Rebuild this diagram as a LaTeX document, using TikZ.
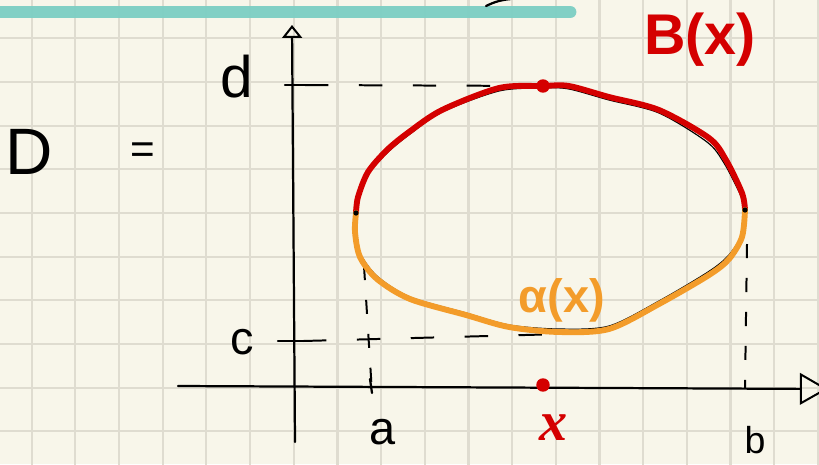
\documentclass[tikz,border=0pt]{standalone}
\usepackage{fontspec}
\setmainfont{Liberation Sans}
\newfontfamily\slantfont{Liberation Serif}
\usetikzlibrary{arrows.meta, calc}
\usepackage{xcolor}
\definecolor{paper}{HTML}{F8F6EA}
\definecolor{gridcol}{HTML}{DFDCD0}
\definecolor{marker}{HTML}{7CCFC4}
\definecolor{upper}{HTML}{D40000}
\definecolor{lower}{HTML}{F39C2A}
\tikzstyle{gridline} = [gridcol, line width=1.9pt]
\tikzstyle{highlight} = [marker, line width=11pt, line cap=round, opacity=0.95]
\tikzstyle{pen} = [black, line width=1.9pt, line cap=round]
\tikzstyle{axisy} = [pen, -{Triangle[open, length=11pt, width=17pt, line width=1.7pt]}]
\tikzstyle{axisx} = [pen, -{Triangle[open, length=24pt, width=27pt, line width=1.7pt]}]
\tikzstyle{guide} = [black, line width=1.7pt, dash pattern=on 20pt off 26pt]
\tikzstyle{vguide} = [black, line width=1.7pt, dash pattern=on 12pt off 17pt]
\tikzstyle{outline} = [black, line width=1pt]
\tikzstyle{upperarc} = [upper, line width=5pt, line cap=round, line join=round]
\tikzstyle{lowerarc} = [lower, line width=5pt, line cap=round, line join=round]
\tikzstyle{reddot} = [circle, fill=upper, inner sep=0pt, minimum size=11.5pt]
\tikzstyle{enddot} = [circle, fill=black, inner sep=0pt, minimum size=4.5pt]
\tikzstyle{lbl} = [inner sep=0pt, text=black]

\begin{document}
\begin{tikzpicture}[x=0.03cm, y=-0.03cm]
\useasboundingbox (0,0) rectangle (819,464);
\clip (0,0) rectangle (819,464);
\fill[paper] (0,0) rectangle (819,464);
\foreach \i in {0,...,18} \draw[gridline] ({31.7+43.67*\i},-5) -- ++(0,475);
\foreach \j in {0,...,9} \draw[gridline] (-5,{38.3+43.67*\j}) -- ++(830,0);
\draw[highlight] (-10,12) -- (570,12);
\draw[pen] (486,6) to[bend left=10] (511,-1);

\coordinate (yb) at (295,442);
\coordinate (yt) at (292,25);
\coordinate (xl) at (178,386);
\coordinate (xr) at (828,389);
\coordinate (L) at (356,213);
\coordinate (R) at (745,210);
\coordinate (top) at (543,86);
\coordinate (xpt) at (543,385);
\coordinate (dl) at (285,85);
\coordinate (dr) at (305,85);
\coordinate (cl) at (278,341);
\coordinate (cr) at (303,341);
\coordinate (cend) at (562,334);
\coordinate (atop) at (364,266);
\coordinate (aax) at (372,393);
\coordinate (btop) at (747,244);
\coordinate (bax) at (745,388);

\draw[axisy] (yb) -- (yt);
\draw[axisx] (xl) -- (xr);
\draw[pen] (dl) -- (dr);
\draw[pen] (cl) -- (cr);
\draw[pen] (370,379) -- (372,393);
\draw[guide] (dr) -- (top);
\draw[guide] (cr) -- (cend);
\draw[vguide] (atop) -- (aax);
\draw[vguide] (btop) -- (bax);

\draw[outline] plot[smooth] coordinates {(L) (359,197) (369,173) (388,152) (410,134) (442,112) (499,91) (543,88) (569,89) (609,100) (659,113) (707,142) (724,163) (740,194) (R)};
\draw[outline] plot[smooth] coordinates {(R) (741,236) (728,256) (708,272) (659,301) (609,326) (559,329) (509,325) (466,313) (410,297) (378,277) (361,255) (355,232) (L)};
\draw[upperarc] plot[smooth] coordinates {(L) (358,197) (368,172) (387,150) (409,132) (442,110) (499,88) (top) (569,86) (609,97) (659,110) (709,138) (726,160) (742,193) (R)};
\draw[lowerarc] plot[smooth] coordinates {(R) (742,237) (729,259) (709,275) (659,304) (609,329) (559,332) (509,327) (466,315) (410,299) (377,279) (360,257) (355,232) (L)};

\node[enddot] (Ldot) at (L) {};
\node[enddot] (Rdot) at (R) {};
\node[reddot] (topdot) at (top) {};
\node[reddot] (xdot) at (xpt) {};

\node[lbl, font=\fontsize{56}{56}\selectfont] (Dset) at (29,152) {D};
\node[lbl, font=\fontsize{36}{36}\selectfont] (eq) at (143,153) {=};
\node[lbl, font=\fontsize{50}{50}\selectfont] (dlbl) at (237,77) {d};
\node[lbl, font=\fontsize{40}{40}\selectfont] (clbl) at (242,342) {c};
\node[lbl, font=\fontsize{40}{40}\selectfont] (albl) at (383,432) {a};
\node[lbl, font=\fontsize{32}{32}\selectfont] (blbl) at (755,440) {b};
\node[lbl, text=upper, font=\fontsize{48}{48}\selectfont\slantfont\bfseries\itshape] (xlbl) at (554,428) {x};
\node[lbl, text=upper, font=\fontsize{49}{49}\selectfont\bfseries] (Blbl) at (700,40) {B(x)};
\node[lbl, text=lower, font=\fontsize{40}{40}\selectfont\bfseries] (alphalbl) at (562,300) {α(x)};
\end{tikzpicture}
\end{document}
